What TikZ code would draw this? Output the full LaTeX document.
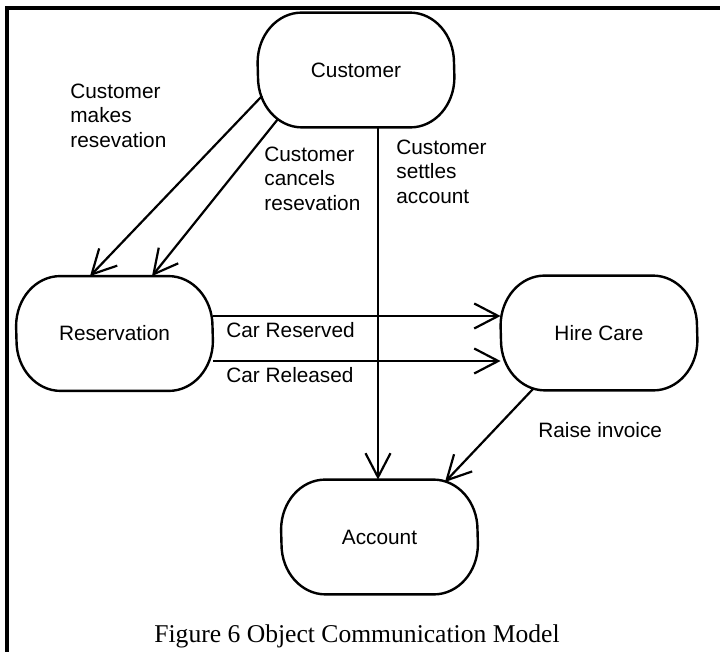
\documentclass[tikz,border=0pt]{standalone}
\usepackage{fontspec}
\setmainfont{Liberation Sans}
\newfontfamily\capfont{Liberation Serif}
\usetikzlibrary{calc,arrows.meta}
\newcommand{\msg}[3]{\begin{tabular}{@{}l@{}}#1\\#2\\#3\end{tabular}}
\newcommand{\objline}[1]{\draw[objline] ($(#1.north)+(-27pt,0)$) -- ($(#1.north)+(27pt,0)$)
  arc[start angle=90,end angle=0,x radius=22pt,y radius=25pt] -- ($(#1.south east)+(0,25pt)$)
  arc[start angle=0,end angle=-90,x radius=22pt,y radius=25pt] -- ($(#1.south)+(-27pt,0)$)
  arc[start angle=270,end angle=180,x radius=22pt,y radius=25pt] -- ($(#1.north west)+(0,-25pt)$)
  arc[start angle=180,end angle=90,x radius=22pt,y radius=25pt] -- cycle;}

\begin{document}
\begin{tikzpicture}[x=0.5pt,y=-0.5pt]
  \tikzset{every node/.append style={font=\fontsize{10.4}{12.2}\selectfont},
           obj/.style={minimum width=98pt,minimum height=57pt,inner sep=0pt},
           objline/.style={line width=1.2pt},
           flow/.style={line width=1.1pt,-{Straight Barb[length=12pt,width=12.5pt]}},
           note/.style={anchor=west,inner sep=0pt}}
  \useasboundingbox (0,0) rectangle (720,652);
  \draw[line width=2pt] (7,652) -- (7,8.5) -- (720,8.5);
  % objects
  \node[obj] (Cust) at (356,70) {Customer};
  \node[obj] (Res) at (114.5,333.5) {Reservation};
  \node[obj] (Hire) at (599,333) {Hire Care};
  \node[obj] (Acct) at (379.5,537) {Account};
  \objline{Cust} \objline{Res} \objline{Hire} \objline{Acct}
  % messages
  \draw[flow] ($(Cust.center)+(-94,26)$) -- ($(Res.north)+(-24.5,0)$);
  \draw[flow] ($(Cust.center)+(-78,49)$) -- ($(Res.north)+(37.5,0)$);
  \draw[flow] ($(Cust.south)+(22,0)$) -- ($(Acct.north)+(-1.5,0)$);
  \draw[flow] ($(Res.east)+(0,-17.5)$) -- ($(Hire.west)+(0,-17)$);
  \draw[flow] ($(Res.east)+(0,27.5)$) -- ($(Hire.west)+(0,28)$);
  \draw[flow] ($(Hire.center)+(-66,56)$) -- ($(Acct.center)+(65.5,-55)$);
  \node[note] (makes) at (70,118) {\msg{Customer}{makes}{resevation}};
  \node[note] (cancels) at (264,181) {\msg{Customer}{cancels}{resevation}};
  \node[note] (settles) at (396,174) {\msg{Customer}{settles}{account}};
  \node[note] (reserved) at (226,330.5) {Car Reserved};
  \node[note] (released) at (226,375.5) {Car Released};
  \node[note] (invoice) at (538,430) {Raise invoice};
  \node[inner sep=0pt,font=\capfont\fontsize{12.8}{15}\selectfont] (fig) at (357,636) {Figure 6 Object Communication Model};
\end{tikzpicture}
\end{document}
